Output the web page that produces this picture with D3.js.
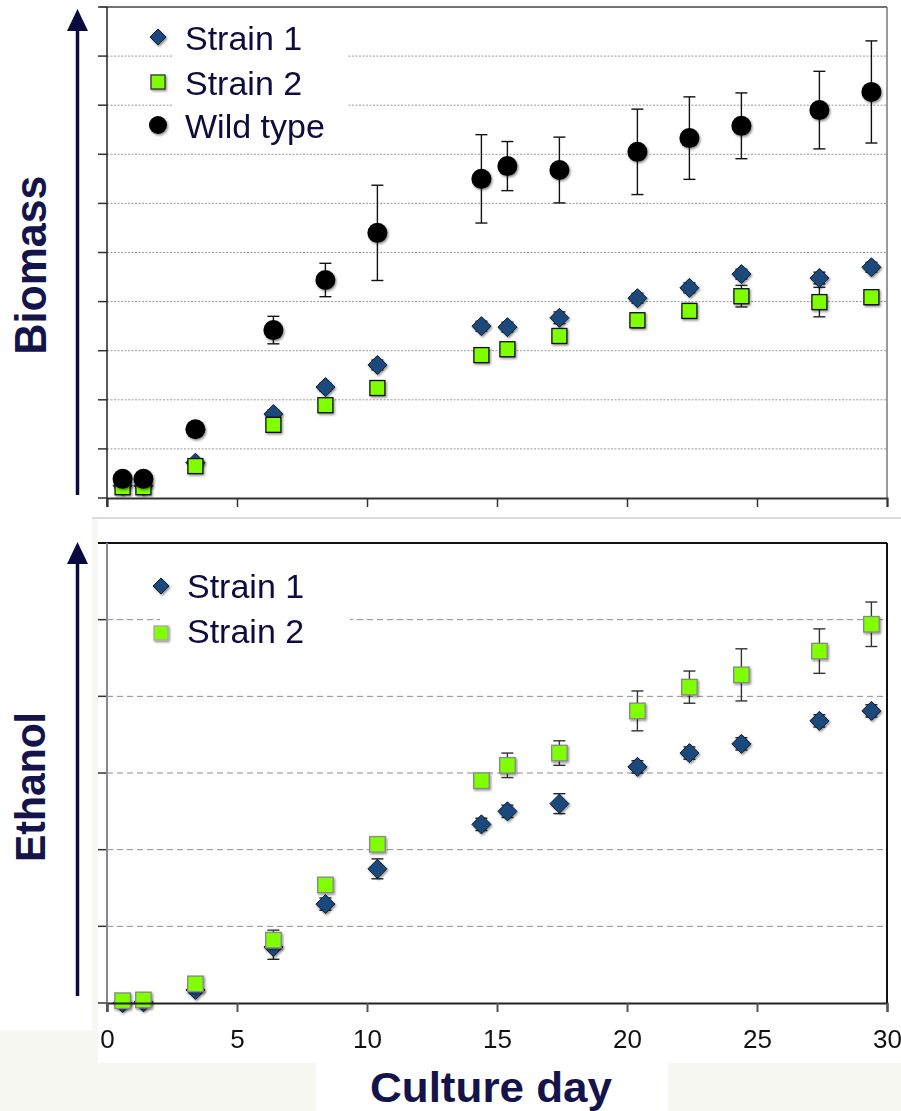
<!doctype html>
<html>
<head>
<meta charset="utf-8">
<script src="https://d3js.org/d3.v7.min.js"></script>
<style>
body {margin: 0; background: white;}
svg {display: block;}
</style>
</head>
<body>
<svg width="901" height="1111" class="chart"></svg>
<script>
// culture days (same for every series)
var days = [0.6, 1.4, 3.4, 6.4, 8.4, 10.4, 14.4, 15.4, 17.4, 20.4, 22.4, 24.4, 27.4, 29.4];

// biomass panel
var bioStrain1 = [0.25, 0.25, 0.72, 1.71, 2.26, 2.71, 3.5, 3.48, 3.67, 4.07, 4.28, 4.56, 4.48, 4.7];
var bioStrain1Err = [0.03, 0.03, 0.05, 0.08, 0.08, 0.1, 0.1, 0.1, 0.12, 0.1, 0.1, 0.1, 0.12, 0.1];
var bioStrain2 = [0.22, 0.22, 0.65, 1.49, 1.89, 2.24, 2.91, 3.03, 3.3, 3.62, 3.81, 4.11, 3.99, 4.09];
var bioStrain2Err = [0.03, 0.03, 0.05, 0.08, 0.08, 0.08, 0.1, 0.1, 0.12, 0.15, 0.15, 0.22, 0.3, 0.15];
var bioWild = [0.39, 0.39, 1.4, 3.42, 4.44, 5.4, 6.5, 6.76, 6.68, 7.05, 7.33, 7.58, 7.9, 8.27];
var bioWildErr = [0.05, 0.05, 0.08, 0.28, 0.34, 0.97, 0.9, 0.5, 0.67, 0.87, 0.84, 0.67, 0.79, 1.04];

// ethanol panel
var ethStrain1 = [0, 0.01, 0.17, 0.73, 1.29, 1.75, 2.33, 2.5, 2.6, 3.08, 3.26, 3.38, 3.68, 3.81];
var ethStrain1Err = [0.02, 0.02, 0.05, 0.16, 0.08, 0.13, 0.08, 0.08, 0.13, 0.08, 0.08, 0.08, 0.08, 0.08];
var ethStrain2 = [0.03, 0.04, 0.25, 0.82, 1.54, 2.07, 2.9, 3.1, 3.26, 3.81, 4.12, 4.28, 4.59, 4.94];
var ethStrain2Err = [0.02, 0.02, 0.05, 0.13, 0.08, 0.08, 0.08, 0.16, 0.16, 0.26, 0.21, 0.34, 0.29, 0.29];

var xTicks = [0, 5, 10, 15, 20, 25, 30];
var bioTicks = [0, 1, 2, 3, 4, 5, 6, 7, 8, 9, 10];
var ethTicks = [0, 1, 2, 3, 4, 5, 6];

var svg = d3.select(".chart");
var navy = "#0c0c3f";

var x = d3.scaleLinear().domain([0, 30]).range([107, 887]);
var yTop = d3.scaleLinear().domain([0, 10]).range([498, 7]);
var yBot = d3.scaleLinear().domain([0, 6]).range([1003, 543]);

// drop shadow for the markers
var defs = svg.append("defs");
defs.append("filter").attr("id", "shadow")
  .attr("x", "-50%").attr("y", "-50%").attr("width", "200%").attr("height", "200%")
  .append("feDropShadow")
  .attr("dx", 1.2).attr("dy", 1.5).attr("stdDeviation", 1.3)
  .attr("flood-color", "#000").attr("flood-opacity", 0.45);

// pale background patches of the pasted figure
var bg = "#f6f8f1";
svg.append("rect").attr("x", 0).attr("y", 1030).attr("width", 92).attr("height", 81).style("fill", bg);
svg.append("rect").attr("x", 0).attr("y", 1063).attr("width", 316).attr("height", 48).style("fill", bg);
svg.append("rect").attr("x", 668).attr("y", 1063).attr("width", 233).attr("height", 48).style("fill", bg);
svg.append("rect").attr("x", 92).attr("y", 518).attr("width", 6).attr("height", 545).style("fill", bg);
svg.append("line").attr("x1", 92).attr("x2", 901).attr("y1", 518).attr("y2", 518)
  .style("stroke", "#dcdcdc").style("stroke-width", 2);

function series(yScale, vals, errs) {
  return days.map(function(d, i) { return {x: d, y: vals[i], e: errs[i], ys: yScale}; });
}

function drawPanel(yScale, ticks, gridDash, gridColor) {
  var g = svg.append("g");
  // gridlines
  g.selectAll(".grid").data(ticks.slice(1, -1)).enter().append("line")
    .attr("x1", x(0)).attr("x2", x(30))
    .attr("y1", function(d) { return yScale(d); })
    .attr("y2", function(d) { return yScale(d); })
    .style("stroke", gridColor).style("stroke-width", 1)
    .style("stroke-dasharray", gridDash);
  // left ticks
  g.selectAll(".ytick").data(ticks).enter().append("line")
    .attr("x1", x(0) - 9).attr("x2", x(0))
    .attr("y1", function(d) { return yScale(d); })
    .attr("y2", function(d) { return yScale(d); })
    .style("stroke", "#333").style("stroke-width", 1.5);
  return g;
}

function drawErr(g, data, color) {
  var eg = g.append("g").style("stroke", color).style("stroke-width", 1.4);
  data.forEach(function(p) {
    var t = p.ys(p.y + p.e), b = p.ys(p.y - p.e), cx = x(p.x);
    eg.append("line").attr("x1", cx).attr("x2", cx).attr("y1", t).attr("y2", b);
    eg.append("line").attr("x1", cx - 6).attr("x2", cx + 6).attr("y1", t).attr("y2", t);
    eg.append("line").attr("x1", cx - 6).attr("x2", cx + 6).attr("y1", b).attr("y2", b);
  });
}

function diamonds(g, data, r) {
  g.append("g").attr("filter", "url(#shadow)").selectAll("path").data(data).enter().append("path")
    .attr("transform", function(d) { return "translate(" + x(d.x) + "," + d.ys(d.y) + ")"; })
    .attr("d", "M0," + (-r) + "L" + r + ",0L0," + r + "L" + (-r) + ",0Z")
    .style("fill", "#1f4a7c").style("stroke", "#0a1a30").style("stroke-width", 1);
}

function squares(g, data, s, stroke) {
  g.append("g").attr("filter", "url(#shadow)").selectAll("rect").data(data).enter().append("rect")
    .attr("x", function(d) { return x(d.x) - s / 2; })
    .attr("y", function(d) { return d.ys(d.y) - s / 2; })
    .attr("width", s).attr("height", s)
    .style("fill", "#7fff00").style("stroke", stroke).style("stroke-width", 1.3);
}

function circles(g, data, r) {
  g.append("g").attr("filter", "url(#shadow)").selectAll("circle").data(data).enter().append("circle")
    .attr("cx", function(d) { return x(d.x); })
    .attr("cy", function(d) { return d.ys(d.y); })
    .attr("r", r).style("fill", "#000");
}

function yArrow(y0, y1) {
  svg.append("line").attr("x1", 77.5).attr("x2", 77.5).attr("y1", y0 + 18).attr("y2", y1)
    .style("stroke", "#0a0a40").style("stroke-width", 3.5);
  svg.append("path")
    .attr("d", "M77.5," + y0 + "L88," + (y0 + 22) + "L67," + (y0 + 22) + "Z")
    .style("fill", "#0a0a40");
}

function legendRow(xp, yp, label) {
  svg.append("text").attr("x", xp).attr("y", yp)
    .style("font-family", "Arial, 'Liberation Sans', sans-serif")
    .style("font-size", "34px").style("fill", navy)
    .text(label);
}

function fixed(px) { return function() { return px; }; }

////////////////////////////////////////////////////////////////////// biomass
var topPanel = drawPanel(yTop, bioTicks, "2,1.5", "#9a9a9a");
// legend box hides gridlines
topPanel.append("rect").attr("x", 173).attr("y", 12).attr("width", 175).attr("height", 130).style("fill", "white");

var b1 = series(yTop, bioStrain1, bioStrain1Err);
var b2 = series(yTop, bioStrain2, bioStrain2Err);
var bw = series(yTop, bioWild, bioWildErr);
drawErr(topPanel, b1, "#222");
drawErr(topPanel, b2, "#222");
drawErr(topPanel, bw, "#111");
diamonds(topPanel, b1, 9.5);
squares(topPanel, b2, 15, "#111");
circles(topPanel, bw, 10);

// frame and bottom axis
svg.append("line").attr("x1", 100).attr("x2", x(30)).attr("y1", yTop(10)).attr("y2", yTop(10))
  .style("stroke", "#444").style("stroke-width", 1.5);
svg.append("line").attr("x1", x(30)).attr("x2", x(30)).attr("y1", yTop(10)).attr("y2", yTop(0))
  .style("stroke", "#777").style("stroke-width", 1.5);
svg.append("line").attr("x1", x(0)).attr("x2", x(0)).attr("y1", yTop(10)).attr("y2", yTop(0) + 9)
  .style("stroke", "#222").style("stroke-width", 1.5);
svg.append("g").attr("transform", "translate(0," + yTop(0) + ")")
  .call(d3.axisBottom(x).tickValues(xTicks).tickSize(9).tickFormat(""))
  .call(function(g) {
    g.select(".domain").style("stroke", "#333").style("stroke-width", 2);
    g.selectAll(".tick line").style("stroke", "#333").style("stroke-width", 1.5);
  });

yArrow(9, 495);

// legend
var lx = x.invert(158);
diamonds(svg, [{x: lx, y: 0, ys: fixed(37)}], 8);
squares(svg, [{x: lx, y: 0, ys: fixed(82)}], 14, "#333");
circles(svg, [{x: lx, y: 0, ys: fixed(125)}], 9);
legendRow(185, 50, "Strain 1");
legendRow(185, 95, "Strain 2");
legendRow(185, 138, "Wild type");

svg.append("text")
  .attr("transform", "translate(46,265) rotate(-90)")
  .attr("text-anchor", "middle")
  .attr("textLength", 179).attr("lengthAdjust", "spacingAndGlyphs")
  .style("font-family", "Arial, 'Liberation Sans', sans-serif")
  .style("font-weight", "bold").style("font-size", "44px").style("fill", "#14144a")
  .text("Biomass");

////////////////////////////////////////////////////////////////////// ethanol
var botPanel = drawPanel(yBot, ethTicks, "6,4", "#8c8c8c");
botPanel.append("rect").attr("x", 160).attr("y", 556).attr("width", 190).attr("height", 92).style("fill", "white");

var e1 = series(yBot, ethStrain1, ethStrain1Err);
var e2 = series(yBot, ethStrain2, ethStrain2Err);
drawErr(botPanel, e1, "#222");
drawErr(botPanel, e2, "#333");
diamonds(botPanel, e1, 9.5);
squares(botPanel, e2, 15.5, "#888");

svg.append("line").attr("x1", 98).attr("x2", x(30)).attr("y1", yBot(6)).attr("y2", yBot(6))
  .style("stroke", "#111").style("stroke-width", 2);
svg.append("line").attr("x1", x(30)).attr("x2", x(30)).attr("y1", yBot(6)).attr("y2", yBot(0))
  .style("stroke", "#111").style("stroke-width", 2);
svg.append("line").attr("x1", x(0)).attr("x2", x(0)).attr("y1", yBot(6)).attr("y2", yBot(0) + 9)
  .style("stroke", "#888").style("stroke-width", 2);
svg.append("g").attr("transform", "translate(0," + yBot(0) + ")")
  .call(d3.axisBottom(x).tickValues(xTicks).tickSize(9).tickPadding(18))
  .call(function(g) {
    g.select(".domain").style("stroke", "#222").style("stroke-width", 2);
    g.selectAll(".tick line").style("stroke", "#555").style("stroke-width", 2);
    g.selectAll(".tick text").style("font-family", "Arial, 'Liberation Sans', sans-serif")
      .style("font-size", "26px").style("fill", "#111");
  });

yArrow(542, 996);

var lx2 = x.invert(161);
diamonds(svg, [{x: lx2, y: 0, ys: fixed(586)}], 8);
squares(svg, [{x: lx2, y: 0, ys: fixed(633)}], 14, "#aaa");
legendRow(187, 598, "Strain 1");
legendRow(187, 643, "Strain 2");

svg.append("text")
  .attr("transform", "translate(45,787) rotate(-90)")
  .attr("text-anchor", "middle")
  .attr("textLength", 150).attr("lengthAdjust", "spacingAndGlyphs")
  .style("font-family", "Arial, 'Liberation Sans', sans-serif")
  .style("font-weight", "bold").style("font-size", "43px").style("fill", "#14144a")
  .text("Ethanol");

svg.append("text")
  .attr("x", 491).attr("y", 1102)
  .attr("text-anchor", "middle")
  .attr("textLength", 242).attr("lengthAdjust", "spacingAndGlyphs")
  .style("font-family", "Arial, 'Liberation Sans', sans-serif")
  .style("font-weight", "bold").style("font-size", "42px").style("fill", "#14144a")
  .text("Culture day");
</script>
</body>
</html>
